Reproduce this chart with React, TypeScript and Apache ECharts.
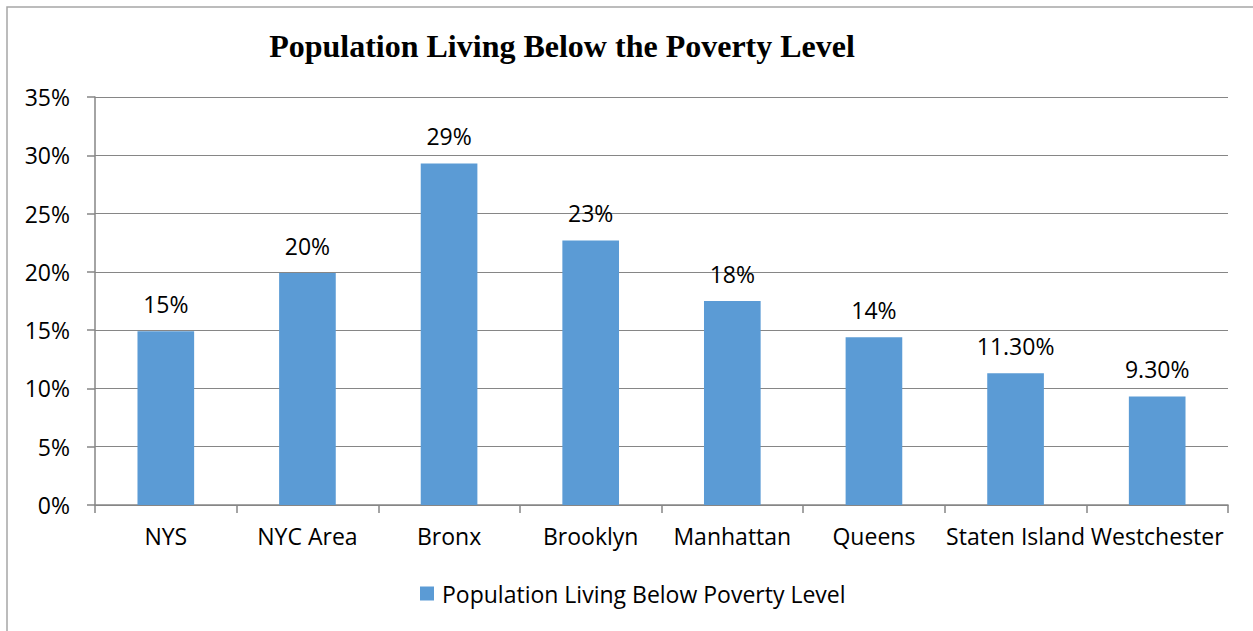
import React, { useEffect, useRef } from "react";
import * as echarts from "echarts";

const titleText = "Population Living Below the Poverty Level";
const seriesName = "Population Living Below Poverty Level";
const categories = ["NYS", "NYC Area", "Bronx", "Brooklyn", "Manhattan", "Queens", "Staten Island", "Westchester"];
const values = [14.9, 19.9, 29.3, 22.7, 17.5, 14.4, 11.3, 9.3];
const valueLabels = ["15%", "20%", "29%", "23%", "18%", "14%", "11.30%", "9.30%"];
const yMin = 0;
const yMax = 35;
const yStep = 5;

export default function App() {
  const ref = useRef<HTMLDivElement>(null);
  useEffect(() => {
    if (!ref.current) return;
    const chart = echarts.init(ref.current, undefined, { renderer: "svg" });
    const font = "Open Sans";
    const fs = 23;
    chart.setOption({
      animation: false,
      backgroundColor: "#ffffff",
      title: {
        text: titleText,
        left: 557,
        textAlign: "center",
        top: 25,
        textStyle: { fontFamily: "Liberation Serif", fontWeight: "bold", fontSize: 32, color: "#000" },
      },
      graphic: [
        {
          type: "rect",
          shape: { x: 7, y: 7, width: 1270, height: 650 },
          style: { fill: "none", stroke: "#a6a6a6", lineWidth: 1.5 },
          silent: true,
        },
      ],
      legend: {
        bottom: 21,
        left: 415,
        itemWidth: 14,
        itemHeight: 14,
        icon: "rect",
        itemGap: 8,
        textStyle: { fontFamily: font, fontSize: fs, color: "#000", padding: [0, 0, 0, 3] },
        data: [seriesName],
      },
      grid: { left: 95, right: 25, top: 97, bottom: 126, containLabel: false },
      xAxis: {
        type: "category",
        data: categories,
        axisLine: { lineStyle: { color: "#868686", width: 1.5 } },
        axisTick: { show: true, length: 8, alignWithLabel: false, lineStyle: { color: "#868686", width: 1.5 } },
        axisLabel: { color: "#000", fontFamily: font, fontSize: fs, margin: 19, interval: 0 },
      },
      yAxis: {
        type: "value",
        min: yMin,
        max: yMax,
        interval: yStep,
        axisLine: { show: true, lineStyle: { color: "#868686", width: 1.5 } },
        axisTick: { show: true, length: 8, lineStyle: { color: "#868686", width: 1.5 } },
        splitLine: { show: true, lineStyle: { color: "#868686", width: 1.2 } },
        axisLabel: {
          color: "#000",
          fontFamily: font,
          fontSize: fs,
          margin: 25,
          formatter: (v: number) => `${v}%`,
        },
      },
      series: [
        {
          name: seriesName,
          type: "bar",
          data: values,
          barWidth: "40%",
          itemStyle: { color: "#5B9BD5" },
          label: {
            show: true,
            position: "top",
            distance: 16,
            color: "#000",
            fontFamily: font,
            fontSize: fs,
            formatter: (p: any) => valueLabels[p.dataIndex],
          },
        },
      ],
    });
    return () => chart.dispose();
  }, []);
  return (
    <div
      ref={ref}
      style={{ position: "fixed", left: 0, top: 0, width: 1253, height: 631 }}
    />
  );
}
